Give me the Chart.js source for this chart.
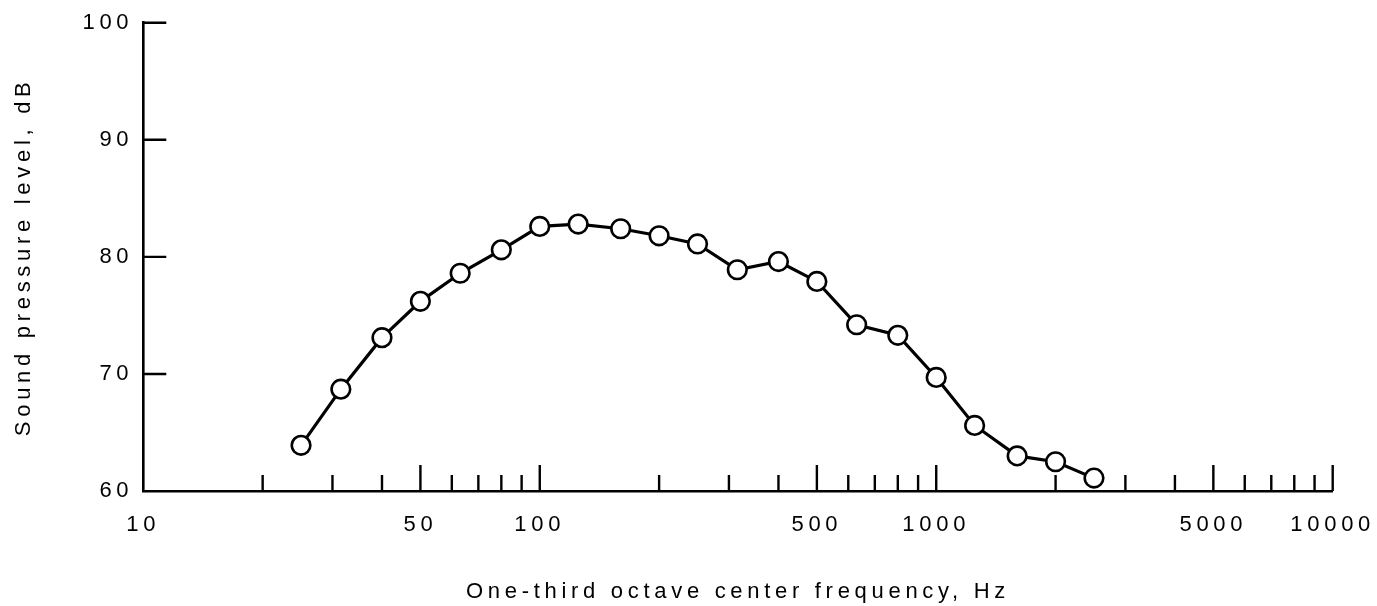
<!DOCTYPE html>
<html>
<head>
<meta charset="utf-8">
<script src="https://cdn.jsdelivr.net/npm/chart.js@4.4.1/dist/chart.umd.min.js"></script>
<style>
  html, body { margin: 0; padding: 0; background: #fff; }
  #wrap { width: 1377px; height: 606px; position: relative; }
</style>
</head>
<body>
<div id="wrap"><canvas id="splChart"></canvas></div>
<script>
// one-third octave band centre frequencies (Hz) and measured levels (dB)
const frequencies = [25, 31.5, 40, 50, 63, 80, 100, 125, 160, 200, 250, 315, 400, 500, 630, 800, 1000, 1250, 1600, 2000, 2500];
const levels = [63.9, 68.7, 73.1, 76.2, 78.6, 80.6, 82.6, 82.8, 82.4, 81.8, 81.1, 78.9, 79.6, 77.9, 74.2, 73.3, 69.7, 65.6, 63.0, 62.5, 61.1];

const xLabelTicks = [10, 50, 100, 500, 1000, 5000, 10000];
const xMajorMarks = [50, 100, 500, 1000, 5000, 10000];
const xMinorMarks = [20, 30, 40, 60, 70, 80, 90, 200, 300, 400, 600, 700, 800, 900,
  2000, 3000, 4000, 6000, 7000, 8000, 9000];
const yTickValues = [70, 80, 90, 100];

const FONT = "'Liberation Sans', Arial, Helvetica, sans-serif";
const SPACING = '4.7px';

// inward tick marks, drawn through the chart's own scales
const innerTicks = {
  id: 'innerTicks',
  beforeUpdate(chart) { chart.ctx.letterSpacing = SPACING; },
  beforeDraw(chart) { chart.ctx.letterSpacing = SPACING; },
  beforeDatasetsDraw(chart) {
    const { ctx, scales: { x, y } } = chart;
    const base = y.getPixelForValue(60);
    const left = x.getPixelForValue(10);
    ctx.save();
    ctx.strokeStyle = '#000';
    ctx.lineWidth = 2.4;
    ctx.beginPath();
    xMajorMarks.forEach((v) => {
      const px = x.getPixelForValue(v);
      ctx.moveTo(px, base);
      ctx.lineTo(px, base - 26);
    });
    xMinorMarks.forEach((v) => {
      const px = x.getPixelForValue(v);
      ctx.moveTo(px, base);
      ctx.lineTo(px, base - 16);
    });
    yTickValues.forEach((v) => {
      const py = y.getPixelForValue(v);
      ctx.moveTo(left, py);
      ctx.lineTo(left + 23, py);
    });
    ctx.stroke();
    ctx.restore();
  }
};

const ctx = document.getElementById('splChart').getContext('2d');
new Chart(ctx, {
  type: 'line',
  data: {
    datasets: [{
      data: frequencies.map((f, i) => ({ x: f, y: levels[i] })),
      borderColor: '#000',
      borderWidth: 3.2,
      pointRadius: 9.3,
      pointBorderWidth: 2.6,
      pointBackgroundColor: '#fff',
      pointBorderColor: '#000',
      tension: 0,
      clip: false
    }]
  },
  options: {
    responsive: true,
    maintainAspectRatio: false,
    animation: false,
    layout: { padding: { top: 22.7, right: 44.3, bottom: 0, left: 0 } },
    plugins: { legend: { display: false }, tooltip: { enabled: false } },
    scales: {
      x: {
        type: 'logarithmic',
        min: 10,
        max: 10000,
        afterBuildTicks: (scale) => { scale.ticks = xLabelTicks.map((v) => ({ value: v })); },
        afterFit: (scale) => {
          scale.height = 115;
          scale.paddingLeft = 0;
          scale.paddingRight = 0;
        },
        grid: { display: false, drawTicks: false },
        border: { display: true, color: '#000', width: 2.6 },
        ticks: {
          autoSkip: false,
          maxRotation: 0,
          padding: 21,
          color: '#000',
          font: { family: FONT, size: 22 },
          callback: (v) => String(v)
        },
        title: {
          display: true,
          text: 'One-third octave center frequency, Hz',
          color: '#000',
          font: { family: FONT, size: 22 },
          padding: { top: 0, bottom: 1 }
        }
      },
      y: {
        min: 60,
        max: 100,
        afterFit: (scale) => {
          scale.width = 143.3;
          scale.paddingTop = 0;
          scale.paddingBottom = 0;
        },
        grid: { display: false, drawTicks: false },
        border: { display: true, color: '#000', width: 2.6 },
        ticks: {
          stepSize: 10,
          padding: 10,
          color: '#000',
          font: { family: FONT, size: 22 }
        },
        title: {
          display: true,
          text: 'Sound pressure level, dB',
          color: '#000',
          font: { family: FONT, size: 22 },
          padding: { top: 10.8, bottom: 0 }
        }
      }
    }
  },
  plugins: [innerTicks]
});
</script>
</body>
</html>
